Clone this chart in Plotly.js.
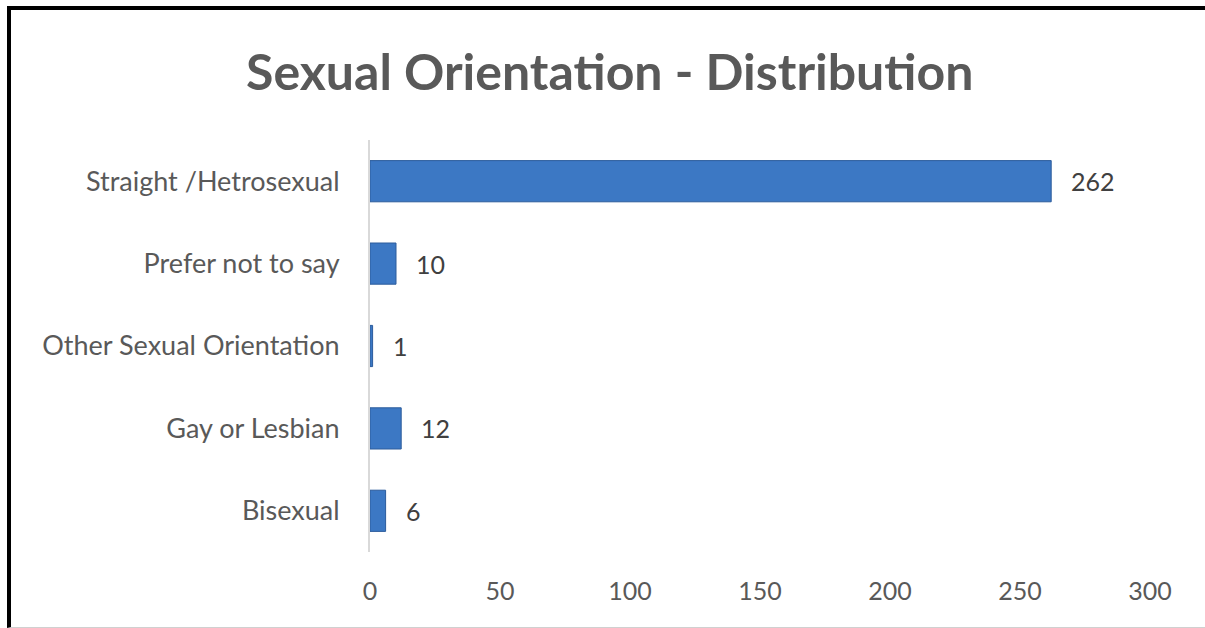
<!DOCTYPE html>
<html>
<head>
<meta charset="utf-8">
<script src="https://cdn.plot.ly/plotly-3.0.1.min.js"></script>
<style>
  html, body { margin: 0; padding: 0; background: #fff; overflow: hidden; }
  #wrap { position: relative; width: 1205px; height: 628px; overflow: hidden; }
  #chart { position: absolute; left: 0; top: 0; width: 1205px; height: 628px; }
  #frame { position: absolute; left: 7px; top: 6px; width: 1198px; height: 622px;
           border-top: 4px solid #000; border-left: 4px solid #000; border-bottom: 1px solid #d0d0d0;
           box-sizing: border-box; pointer-events: none; }
</style>
</head>
<body>
<div id="wrap">
  <div id="chart"></div>
  <div id="frame"></div>
</div>
<script>
const categories = ["Straight /Hetrosexual", "Prefer not to say", "Other Sexual Orientation", "Gay or Lesbian", "Bisexual"];
const counts = [262, 10, 1, 12, 6];
const xTicks = [0, 50, 100, 150, 200, 250, 300];

const FONT = "Lato, 'Open Sans', sans-serif";

const trace = {
  type: "bar",
  orientation: "h",
  x: counts,
  y: categories,
  marker: { color: "#3c78c4", line: { color: "#2c5c9c", width: 1 } },
  hoverinfo: "x+y"
};

const annotations = categories.map((c, i) => ({
  x: counts[i], y: c, xref: "x", yref: "y",
  text: String(counts[i]), showarrow: false,
  xanchor: "left", xshift: 18,
  font: { family: FONT, size: 25, color: "#404040" }
}));

const layout = {
  width: 1205, height: 628,
  paper_bgcolor: "#fff", plot_bgcolor: "#fff",
  margin: { l: 370, r: 55, t: 140, b: 76 },
  title: {
    text: "<b>Sexual Orientation - Distribution</b>",
    x: 0.506, xanchor: "center", y: 0.885, yanchor: "middle",
    font: { family: FONT, size: 50, color: "#595959" }
  },
  bargap: 0.5,
  showlegend: false,
  xaxis: {
    range: [0, 300], tickvals: xTicks, ticktext: xTicks.map(String),
    showgrid: false, zeroline: false, showline: false,
    ticks: "", ticklabelstandoff: 22,
    tickfont: { family: FONT, size: 25, color: "#595959" },
    fixedrange: true
  },
  yaxis: {
    type: "category", autorange: "reversed",
    showgrid: false, zeroline: false,
    showline: true, linecolor: "#d9d9d9", linewidth: 2,
    ticks: "", ticklabelstandoff: 23,
    tickfont: { family: FONT, size: 27, color: "#595959" },
    fixedrange: true
  },
  annotations: annotations
};

Plotly.newPlot("chart", [trace], layout, { displayModeBar: false, staticPlot: true });
</script>
</body>
</html>
